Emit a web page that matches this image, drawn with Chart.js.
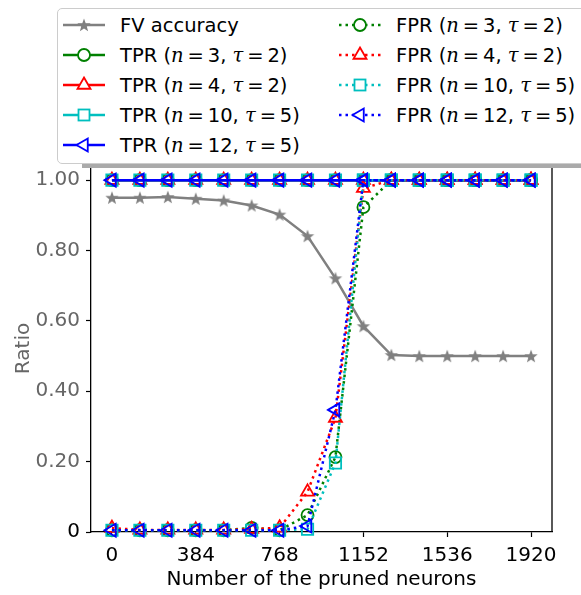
<!DOCTYPE html>
<html>
<head>
    <title>Pruned neurons vs ratio</title>
    <script src="https://cdn.jsdelivr.net/npm/chart.js@4/dist/chart.umd.min.js"></script>
    <style>
        body {
            margin: 0;
            background: #FFFFFF;
            font-family: "DejaVu Sans", sans-serif;
            overflow: hidden;
        }
        #wrap {
            position: relative;
            width: 581px;
            height: 595px;
            overflow: hidden;
        }
        #chart {
            position: absolute;
            left: 0;
            top: 0;
        }
        #shadow {
            position: absolute;
            left: 82px;
            top: 163px;
            width: 520px;
            height: 5px;
            background: #AAAAAA;
        }
        #legend {
            position: absolute;
            left: 57px;
            top: 8px;
            width: 560px;
            height: 154px;
            border: 1px solid #CCCCCC;
            border-radius: 5px;
            background: #FFFFFF;
            font-size: 19.5px;
            color: #000;
        }
        .row {
            position: absolute;
            height: 30px;
            display: flex;
            align-items: center;
            white-space: nowrap;
        }
        .row svg {
            margin-right: 15px;
        }
        .row i {
            font-family: "DejaVu Serif", serif;
            font-style: italic;
        }
    </style>
</head>
<body>
<div id="wrap">
    <canvas id="chart" width="581" height="595"></canvas>
    <div id="shadow"></div>
    <div id="legend"></div>
</div>

<script type="text/javascript">
    // number of pruned neurons (x) and the measured ratios
    const pruned = [0, 128, 256, 384, 512, 640, 768, 896, 1024, 1152, 1280, 1408, 1536, 1664, 1792, 1920];
    const xTicks = [0, 384, 768, 1152, 1536, 1920];
    const yTicks = [0, 0.2, 0.4, 0.6, 0.8, 1.0];

    const fvAccuracy = [0.950, 0.950, 0.952, 0.947, 0.942, 0.928, 0.902, 0.841, 0.721, 0.585, 0.503, 0.500, 0.500, 0.500, 0.500, 0.500];

    const tprN3  = [1, 1, 1, 1, 1, 1, 1, 1, 1, 1, 1, 1, 1, 1, 1, 1];
    const tprN4  = [1, 1, 1, 1, 1, 1, 1, 1, 1, 1, 1, 1, 1, 1, 1, 1];
    const tprN10 = [1, 1, 1, 1, 1, 1, 1, 1, 1, 1, 1, 1, 1, 1, 1, 1];
    const tprN12 = [1, 1, 1, 1, 1, 1, 1, 1, 1, 1, 1, 1, 1, 1, 1, 1];

    const fprN3  = [0.005, 0.005, 0.005, 0.005, 0.005, 0.012, 0.005, 0.048, 0.213, 0.923, 1, 1, 1, 1, 1, 1];
    const fprN4  = [0.011, 0.006, 0.006, 0.006, 0.006, 0.008, 0.012, 0.114, 0.324, 0.977, 1, 1, 1, 1, 1, 1];
    const fprN10 = [0.005, 0.005, 0.005, 0.005, 0.005, 0.005, 0.005, 0.008, 0.196, 1, 1, 1, 1, 1, 1, 1];
    const fprN12 = [0.005, 0.005, 0.005, 0.005, 0.005, 0.005, 0.005, 0.017, 0.347, 1, 1, 1, 1, 1, 1, 1];

    const GRAY = '#808080', GREEN = '#008000', RED = '#FF0000', CYAN = '#00BFBF', BLUE = '#0000FF';

    function starPoints(cx, cy, ro, ri) {
        let pts = [];
        for (let k = 0; k < 10; k++) {
            let r = k % 2 === 0 ? ro : ri;
            let a = -Math.PI / 2 + k * Math.PI / 5;
            pts.push([cx + r * Math.cos(a), cy + r * Math.sin(a)]);
        }
        return pts;
    }

    // filled five-point star like matplotlib's '*'
    let starImg = document.createElement('canvas');
    starImg.width = 16;
    starImg.height = 16;
    (function () {
        let c = starImg.getContext('2d');
        c.fillStyle = GRAY;
        c.beginPath();
        starPoints(8, 8.5, 7, 2.9).forEach((p, i) => i ? c.lineTo(p[0], p[1]) : c.moveTo(p[0], p[1]));
        c.closePath();
        c.fill();
    })();

    function pts(arr) {
        return pruned.map((x, i) => ({x: x, y: arr[i]}));
    }

    function series(label, arr, color, style, dotted, order) {
        let ds = {
            label: label,
            data: pts(arr),
            borderColor: color,
            backgroundColor: color,
            borderWidth: 2.5,
            borderDash: dotted ? [2.5, 4] : [],
            pointStyle: style,
            pointBorderColor: color,
            pointBackgroundColor: 'rgba(0,0,0,0)',
            pointBorderWidth: 1.8,
            pointRadius: 6,
            pointRotation: 0,
            tension: 0,
            order: order,
            clip: false
        };
        if (style === 'rect') ds.pointRadius = 8;
        if (style === 'triangle') ds.pointRadius = 7.5;
        if (style === 'left') {
            ds.pointStyle = 'triangle';
            ds.pointRotation = -90;
            ds.pointRadius = 7.5;
        }
        return ds;
    }

    const datasets = [
        series('FV accuracy', fvAccuracy, GRAY, starImg, false, 9),
        series('TPR n=3', tprN3, GREEN, 'circle', false, 8),
        series('TPR n=4', tprN4, RED, 'triangle', false, 7),
        series('TPR n=10', tprN10, CYAN, 'rect', false, 6),
        series('TPR n=12', tprN12, BLUE, 'left', false, 5),
        series('FPR n=3', fprN3, GREEN, 'circle', true, 4),
        series('FPR n=4', fprN4, RED, 'triangle', true, 3),
        series('FPR n=10', fprN10, CYAN, 'rect', true, 2),
        series('FPR n=12', fprN12, BLUE, 'left', true, 1)
    ];

    const spines = {
        id: 'spines',
        afterDraw(chart) {
            const {ctx, chartArea: a} = chart;
            ctx.save();
            ctx.strokeStyle = '#000';
            ctx.lineWidth = 1.3;
            ctx.beginPath();
            ctx.moveTo(a.right, a.bottom);
            ctx.lineTo(a.right, a.top);
            ctx.lineTo(a.left, a.top);
            ctx.stroke();
            ctx.restore();
        }
    };

    const tickFont = {family: 'DejaVu Sans', size: 20};

    new Chart(document.getElementById('chart').getContext('2d'), {
        type: 'line',
        data: {datasets: datasets},
        plugins: [spines],
        options: {
            responsive: false,
            animation: false,
            devicePixelRatio: 1,
            events: [],
            layout: {padding: {top: 165, right: 29, left: 0, bottom: 0}},
            plugins: {legend: {display: false}, tooltip: {enabled: false}},
            scales: {
                x: {
                    type: 'linear',
                    min: -96,
                    max: 2016,
                    afterBuildTicks: s => { s.ticks = xTicks.map(v => ({value: v})); },
                    afterFit: s => { s.height = 63; },
                    ticks: {font: tickFont, color: '#000', padding: 7, maxRotation: 0, callback: v => String(v)},
                    grid: {drawOnChartArea: false, color: '#000', tickLength: 5, tickWidth: 1.2},
                    border: {color: '#000', width: 1.3},
                    title: {display: true, text: 'Number of the pruned neurons', font: tickFont, color: '#000', padding: {top: 0, bottom: 3}}
                },
                y: {
                    type: 'linear',
                    min: 0,
                    max: 1.043,
                    afterBuildTicks: s => { s.ticks = yTicks.map(v => ({value: v})); },
                    afterFit: s => { s.width = 91; },
                    ticks: {
                        font: tickFont,
                        padding: 6,
                        color: c => c.tick && c.tick.value === 0 ? '#000' : '#666',
                        callback: v => v === 0 ? '0' : v.toFixed(2)
                    },
                    grid: {drawOnChartArea: false, color: '#000', tickLength: 5, tickWidth: 1.2},
                    border: {color: '#000', width: 1.3},
                    title: {display: true, text: 'Ratio', font: tickFont, color: '#666', padding: {top: 12, bottom: 0}}
                }
            }
        }
    });

    // legend, two columns like the original
    function markerSvg(kind, color) {
        if (kind === 'star') {
            let p = starPoints(21, 10.5, 7, 2.9).map(q => q[0].toFixed(1) + ',' + q[1].toFixed(1)).join(' ');
            return '<polygon points="' + p + '" fill="' + color + '"/>';
        }
        let s = 'fill="white" stroke="' + color + '" stroke-width="1.8"';
        if (kind === 'circle') return '<circle cx="21" cy="10" r="6" ' + s + '/>';
        if (kind === 'rect') return '<rect x="15.5" y="4.5" width="11" height="11" ' + s + '/>';
        if (kind === 'triangle') return '<polygon points="21,2.5 27.5,13.75 14.5,13.75" ' + s + '/>';
        return '<polygon points="13.5,10 24.75,3.5 24.75,16.5" ' + s + '/>';
    }

    function handle(kind, color, dotted) {
        let dash = dotted ? ' stroke-dasharray="2.5 4"' : '';
        return '<svg width="42" height="20"><line x1="0" y1="10" x2="42" y2="10" stroke="' + color +
            '" stroke-width="2.5"' + dash + '/>' + markerSvg(kind, color) + '</svg>';
    }

    function mathLabel(kind, n, tau) {
        return kind + ' (<i>n</i>&thinsp;=&thinsp;' + n + ', <i>τ</i>&thinsp;=&thinsp;' + tau + ')';
    }

    const legendRows = [
        [0, 0, handle('star', GRAY, false), 'FV accuracy'],
        [0, 1, handle('circle', GREEN, false), mathLabel('TPR', 3, 2)],
        [0, 2, handle('triangle', RED, false), mathLabel('TPR', 4, 2)],
        [0, 3, handle('rect', CYAN, false), mathLabel('TPR', 10, 5)],
        [0, 4, handle('left', BLUE, false), mathLabel('TPR', 12, 5)],
        [1, 0, handle('circle', GREEN, true), mathLabel('FPR', 3, 2)],
        [1, 1, handle('triangle', RED, true), mathLabel('FPR', 4, 2)],
        [1, 2, handle('rect', CYAN, true), mathLabel('FPR', 10, 5)],
        [1, 3, handle('left', BLUE, true), mathLabel('FPR', 12, 5)]
    ];

    let legendDiv = document.getElementById('legend');
    legendRows.forEach(r => {
        let row = document.createElement('div');
        row.className = 'row';
        row.style.left = (r[0] === 0 ? 5 : 281) + 'px';
        row.style.top = (1 + 30 * r[1]) + 'px';
        row.innerHTML = r[2] + '<span>' + r[3] + '</span>';
        legendDiv.appendChild(row);
    });
</script>
</body>
</html>
